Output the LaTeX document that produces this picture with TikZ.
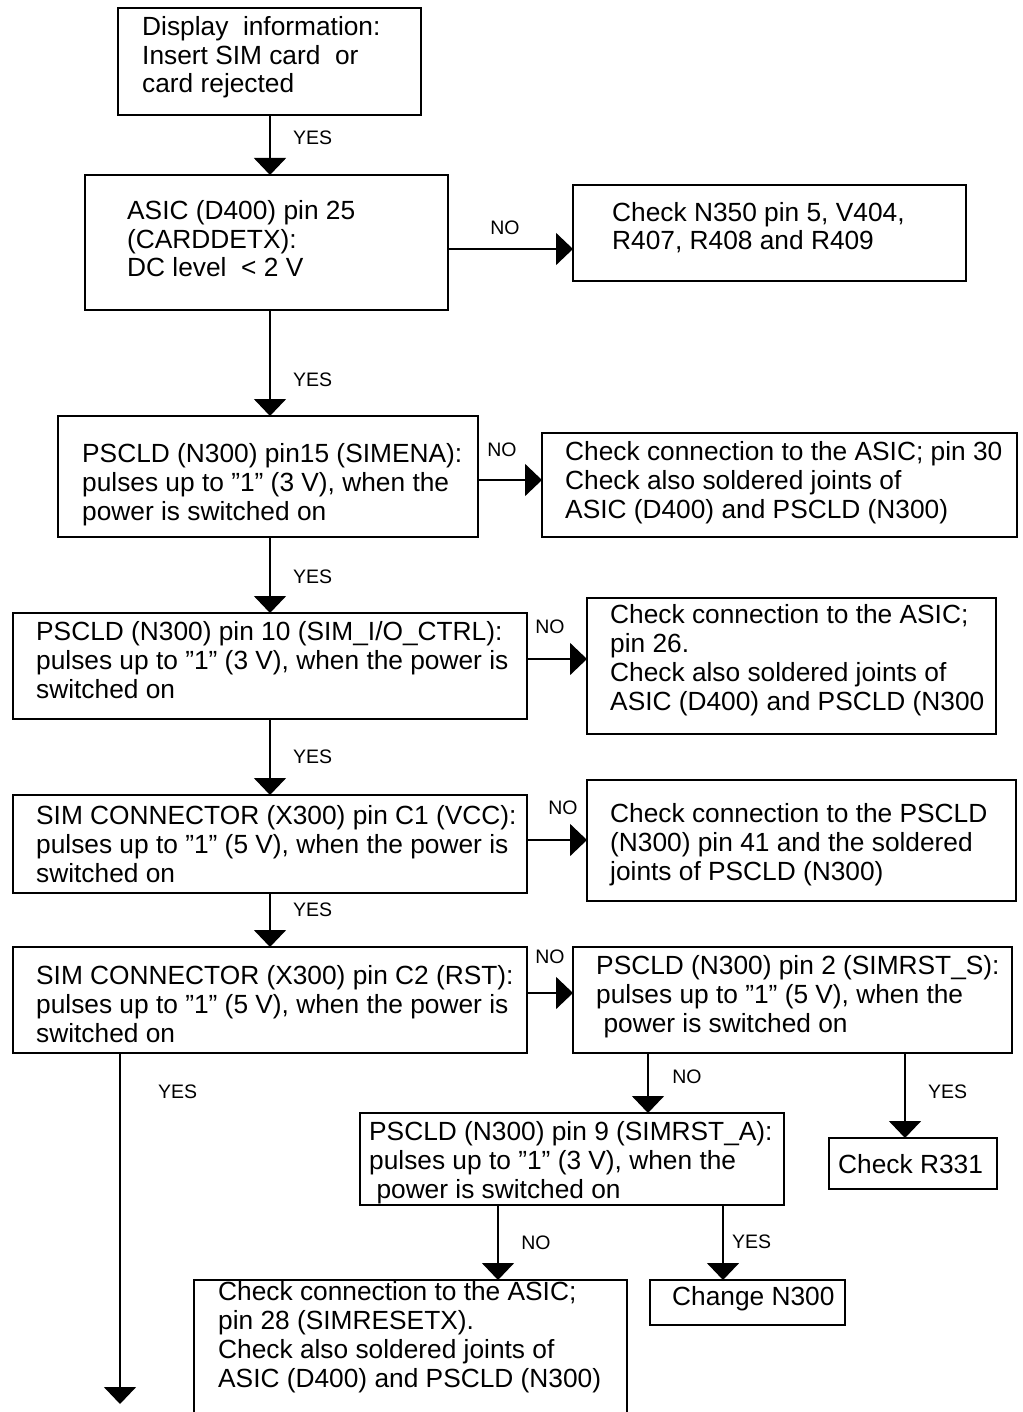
\documentclass[tikz,border=0pt]{standalone}
\usepackage{fontspec}
\setmainfont{Liberation Sans}
\usetikzlibrary{arrows.meta}
\tikzset{
  boxnode/.style={draw, line width=1.8pt, inner sep=0pt, outer sep=0pt, rectangle},
  ghostbox/.style={draw=none, inner sep=0pt, outer sep=0pt, rectangle},
  txt/.style={anchor=base west, inner sep=0pt, align=left, font=\fontsize{26.3}{28.7}\selectfont},
  lbl/.style={anchor=west, inner sep=0pt, font=\fontsize{19.5}{22}\selectfont},
  lblc/.style={anchor=center, inner sep=0pt, font=\fontsize{19.5}{22}\selectfont},
  arr/.style={line width=1.8pt, -{Triangle[length=17pt,width=32pt]}},
}
\newcommand{\mkbox}[6][boxnode]{%
  \node[#1, minimum width={(#5-#3)*1pt}, minimum height={(#6-#4)*1pt}, anchor=north west] (#2) at (#3,#4) {};}
\begin{document}
\begin{tikzpicture}[x=1pt,y=-1pt]
\useasboundingbox (0,0) rectangle (1022,1412);
% boxes
\mkbox{b1}{118}{8}{421}{115}
\mkbox{b2}{85}{175}{448}{310}
\mkbox{b3}{573}{185}{966}{281}
\mkbox{b4}{58}{416}{478}{537}
\mkbox{b5}{542}{433}{1017}{537}
\mkbox{b6}{13}{613}{527}{719}
\mkbox{b7}{587}{598}{996}{734}
\mkbox{b8}{13}{795}{527}{893}
\mkbox{b9}{587}{780}{1016}{901}
\mkbox{b10}{13}{947}{527}{1053}
\mkbox{b11}{573}{947}{1012}{1053}
\mkbox{b12}{360}{1113}{784}{1205}
\mkbox{b13}{829}{1138}{997}{1189}
\mkbox[ghostbox]{b14}{194}{1280}{627}{1420}
\draw[line width=1.8pt] (b14.south west) -- (b14.north west) -- (b14.north east) -- (b14.south east);
\mkbox{b15}{650}{1280}{845}{1325}
% texts (anchored at the baseline of the last line)
\node[txt] (t1) at (142,93) {Display\ \ information:\\Insert SIM card\ \ or\\card rejected};
\node[txt] (t2) at (127,277) {ASIC (D400) pin 25\\(CARDDETX):\\DC level\ \ {<} 2 V};
\node[txt] (t3) at (612,250) {Check N350 pin 5, V404,\\R407, R408 and R409};
\node[txt] (t4) at (82,520) {PSCLD (N300) pin15 (SIMENA):\\pulses up to ”1” (3 V), when the\\power is switched on};
\node[txt] (t5) at (565,518) {Check connection to the ASIC; pin 30\\Check also soldered joints of\\ASIC (D400) and PSCLD (N300)};
\node[txt] (t6) at (36,698) {PSCLD (N300) pin 10 (SIM\_I/O\_CTRL):\\pulses up to ”1” (3 V), when the power is\\switched on};
\node[txt] (t7) at (610,710) {Check connection to the ASIC;\\pin 26.\\Check also soldered joints of\\ASIC (D400) and PSCLD (N300};
\node[txt] (t8) at (36,882) {SIM CONNECTOR (X300) pin C1 (VCC):\\pulses up to ”1” (5 V), when the power is\\switched on};
\node[txt] (t9) at (610,880) {Check connection to the PSCLD\\(N300) pin 41 and the soldered\\joints of PSCLD (N300)};
\node[txt] (t10) at (36,1042) {SIM CONNECTOR (X300) pin C2 (RST):\\pulses up to ”1” (5 V), when the power is\\switched on};
\node[txt] (t11) at (596,1032) {PSCLD (N300) pin 2 (SIMRST\_S):\\pulses up to ”1” (5 V), when the\\\ power is switched on};
\node[txt] (t12) at (369,1198) {PSCLD (N300) pin 9 (SIMRST\_A):\\pulses up to ”1” (3 V), when the\\\ power is switched on};
\node[txt] (t13) at (838,1173) {Check R331};
\node[txt] (t14) at (218,1387) {Check connection to the ASIC;\\pin 28 (SIMRESETX).\\Check also soldered joints of\\ASIC (D400) and PSCLD (N300)};
\node[txt] (t15) at (672,1305) {Change N300};
% helper coordinates
\coordinate (x270) at (270,0);
\coordinate (x648) at (648,0);
\coordinate (x905) at (905,0);
\coordinate (x498) at (498,0);
\coordinate (x723) at (723,0);
\coordinate (x120) at (120,0);
\coordinate (y249) at (0,249);
\coordinate (y480) at (0,480);
\coordinate (y659) at (0,659);
\coordinate (y840) at (0,840);
\coordinate (y993) at (0,993);
\coordinate (endA) at (120,1404);
% vertical connectors
\draw[arr] (b1.south -| x270) -- (b2.north -| x270);
\draw[arr] (b2.south -| x270) -- (b4.north -| x270);
\draw[arr] (b4.south -| x270) -- (b6.north -| x270);
\draw[arr] (b6.south -| x270) -- (b8.north -| x270);
\draw[arr] (b8.south -| x270) -- (b10.north -| x270);
\draw[arr] (b10.south -| x120) -- (endA);
\draw[arr] (b11.south -| x648) -- (b12.north -| x648);
\draw[arr] (b11.south -| x905) -- (b13.north -| x905);
\draw[arr] (b12.south -| x498) -- (b14.north -| x498);
\draw[arr] (b12.south -| x723) -- (b15.north -| x723);
% horizontal connectors
\draw[arr] (b2.east |- y249) -- (b3.west |- y249);
\draw[arr] (b4.east |- y480) -- (b5.west |- y480);
\draw[arr] (b6.east |- y659) -- (b7.west |- y659);
\draw[arr] (b8.east |- y840) -- (b9.west |- y840);
\draw[arr] (b10.east |- y993) -- (b11.west |- y993);
% labels
\node[lbl] (l1) at (293,138) {YES};
\node[lbl] (l2) at (293,380) {YES};
\node[lbl] (l3) at (293,577) {YES};
\node[lbl] (l4) at (293,757) {YES};
\node[lbl] (l5) at (293,910) {YES};
\node[lbl] (l6) at (158,1092) {YES};
\node[lbl] (l7) at (928,1092) {YES};
\node[lbl] (l8) at (732,1242) {YES};
\node[lblc] (n1) at (505,228) {NO};
\node[lblc] (n2) at (502,450) {NO};
\node[lblc] (n3) at (550,627) {NO};
\node[lblc] (n4) at (563,808) {NO};
\node[lblc] (n5) at (550,957) {NO};
\node[lblc] (n6) at (687,1077) {NO};
\node[lblc] (n7) at (536,1243) {NO};
\end{tikzpicture}
\end{document}
